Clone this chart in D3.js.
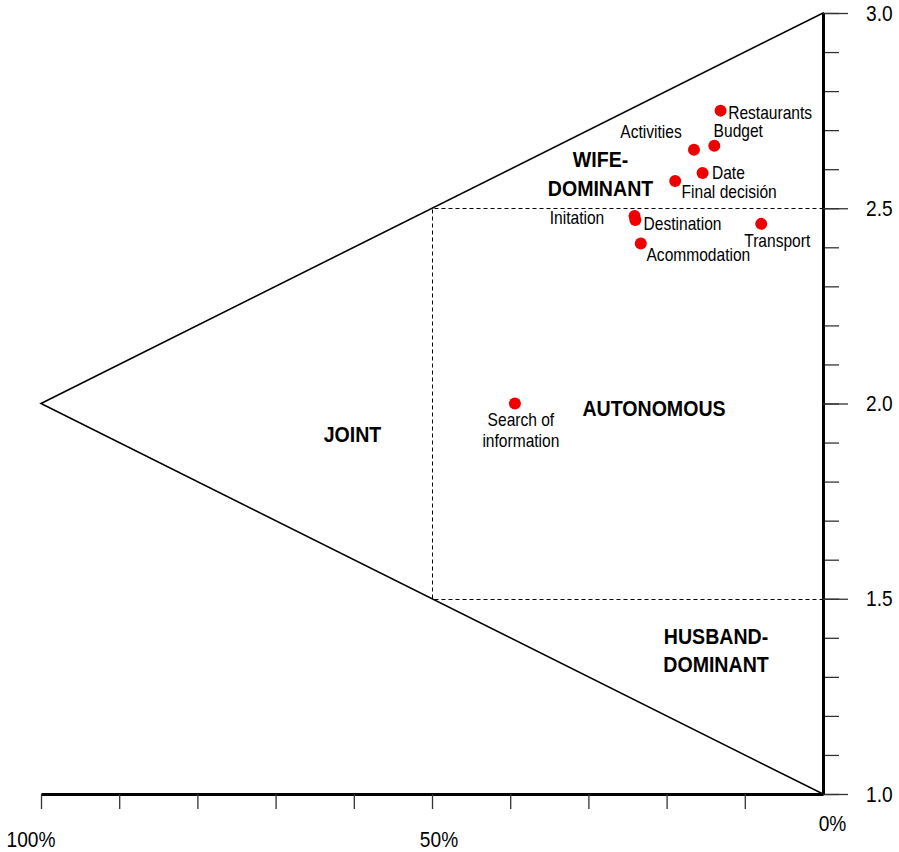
<!DOCTYPE html>
<html>
<head>
<meta charset="utf-8">
<script src="https://cdn.jsdelivr.net/npm/d3@7"></script>
<style>
  html, body { margin: 0; padding: 0; background: #fff; }
  svg { display: block; font-family: "Liberation Sans", Arial, sans-serif; }
</style>
</head>
<body>
<svg id="chart" width="899" height="852"></svg>
<script>
// ---- data ----
const decisions   = ["Restaurants", "Budget", "Activities", "Date", "Final decisión", "Initation", "Destination", "Transport", "Acommodation", "Search of information"];
const jointPct    = [13.1, 13.9, 16.5, 15.4, 18.9, 24.1, 24.0, 7.9, 23.3, 39.4];
const relInfluence= [2.75, 2.66, 2.65, 2.59, 2.57, 2.48, 2.47, 2.46, 2.41, 2.00];
const yMajorTicks = [1.0, 1.5, 2.0, 2.5, 3.0];
const yMinorTicks = [1.0,1.1,1.2,1.3,1.4,1.5,1.6,1.7,1.8,1.9,2.0,2.1,2.2,2.3,2.4,2.5,2.6,2.7,2.8,2.9,3.0];
const xTicks      = [100, 90, 80, 70, 60, 50, 40, 30, 20, 10];
const xTickLabels = ["100%", "50%", "0%"];
const xTickLabelValues = [100, 50, 0];
const regionNames = ["WIFE-\nDOMINANT", "AUTONOMOUS", "JOINT", "HUSBAND-\nDOMINANT"];

// ---- layout (positions / offsets / styles) ----
const labelLayout = {
  "Restaurants":          {dx: 7.6,  dy: 8.3,  anchor: "start"},
  "Budget":               {dx: -0.7, dy: -9,   anchor: "start"},
  "Activities":           {dx: -12.3,dy: -12,  anchor: "end"},
  "Date":                 {dx: 9.4,  dy: 5.7,  anchor: "start"},
  "Final decisión":       {dx: 6.4,  dy: 17,   anchor: "start"},
  "Initation":            {dx: -30.3,dy: 7.7,  anchor: "end"},
  "Destination":          {dx: 8.3,  dy: 9.7,  anchor: "start"},
  "Transport":            {dx: -17,  dy: 22.7, anchor: "start"},
  "Acommodation":         {dx: 5.7,  dy: 17.7, anchor: "start"},
  "Search of information":{dx: 6,    dy: 22,   anchor: "middle", lines: ["Search of", "information"]}
};
const regionLayout = [
  {x: 600.5, y: 167.3},
  {x: 654,   y: 416},
  {x: 352.5, y: 442},
  {x: 716,   y: 644}
];
const xLabelOffsets = [{dx: -10, y: 847}, {dx: 7, y: 847}, {dx: 9.5, y: 831}];
const SX = 0.89;          // horizontal squeeze of the reference typeface
const FS_POINT = 17.5, FS_AXIS = 21.5, FS_REGION = 22;

const svg = d3.select("#chart");
const x = d3.scaleLinear().domain([100, 0]).range([41, 823]);
const y = d3.scaleLinear().domain([1, 3]).range([794, 13]);

function putText(g, X, Y, txt, size, anchor, weight) {
  return g.append("text")
    .attr("transform", `translate(${X},${Y}) scale(${SX},1)`)
    .attr("text-anchor", anchor || "start")
    .attr("font-size", size)
    .attr("font-weight", weight || "normal")
    .attr("fill", "#000")
    .text(txt);
}

// triangle
const tri = [[100, 2.0], [0, 3.0], [0, 1.0]];
svg.append("path")
  .attr("d", d3.line().x(d => x(d[0])).y(d => y(d[1]))(tri) + "Z")
  .attr("fill", "none").attr("stroke", "#000").attr("stroke-width", 1.6);

// dashed autonomous box
const box = [[0, 2.5], [50, 2.5], [50, 1.5], [0, 1.5]];
svg.append("path")
  .attr("d", d3.line().x(d => Math.round(x(d[0])) + 0.5).y(d => Math.round(y(d[1])) + 0.5)(box))
  .attr("fill", "none").attr("stroke", "#000").attr("stroke-width", 1)
  .attr("stroke-dasharray", "4,3");

// right axis: minor ticks
const minorAxis = d3.axisRight(y).tickValues(yMinorTicks).tickSize(16).tickSizeOuter(0).tickFormat("");
const gMinor = svg.append("g").attr("transform", `translate(${x(0)},0)`).call(minorAxis);
gMinor.select(".domain").remove();
gMinor.selectAll(".tick line").attr("stroke", "#333").attr("stroke-width", 1.3);

// right axis: major ticks + labels
const majorAxis = d3.axisRight(y).tickValues(yMajorTicks).tickSize(25).tickSizeOuter(0)
  .tickPadding(18).tickFormat(d3.format(".1f"));
const gMajor = svg.append("g").attr("transform", `translate(${x(0)},0)`).call(majorAxis);
gMajor.select(".domain").attr("stroke", "#000").attr("stroke-width", 3);
gMajor.selectAll(".tick line").attr("stroke", "#333").attr("stroke-width", 1.3);
gMajor.selectAll(".tick text")
  .attr("x", null).attr("dy", null)
  .attr("transform", `translate(43,7) scale(${SX},1)`)
  .attr("font-size", FS_AXIS).attr("fill", "#000")
  .attr("font-family", "Liberation Sans, Arial, sans-serif");

// bottom axis
const bottomAxis = d3.axisBottom(x).tickValues(xTicks).tickSize(15).tickSizeOuter(0).tickFormat("");
const gBottom = svg.append("g").attr("transform", `translate(0,${y(1)})`).call(bottomAxis);
gBottom.select(".domain").attr("stroke", "#000").attr("stroke-width", 3);
gBottom.selectAll(".tick line").attr("stroke", "#333").attr("stroke-width", 1.3);

const gXL = svg.append("g");
xTickLabels.forEach((lab, i) => {
  putText(gXL, x(xTickLabelValues[i]) + xLabelOffsets[i].dx, xLabelOffsets[i].y, lab, FS_AXIS, "middle");
});

// points
const pts = decisions.map((name, i) => ({name, p: jointPct[i], v: relInfluence[i]}));
svg.append("g").selectAll("circle").data(pts).join("circle")
  .attr("cx", d => x(d.p)).attr("cy", d => y(d.v)).attr("r", 6)
  .attr("fill", "#ee0000");

// point labels
const lg = svg.append("g");
pts.forEach(d => {
  const L = labelLayout[d.name];
  const lines = L.lines || [d.name];
  lines.forEach((ln, k) => {
    putText(lg, x(d.p) + L.dx, y(d.v) + L.dy + k * 21.5, ln, FS_POINT, L.anchor);
  });
});

// region labels
const rg = svg.append("g");
regionNames.forEach((name, i) => {
  const pos = regionLayout[i];
  name.split("\n").forEach((ln, k) => {
    putText(rg, pos.x, pos.y + k * 28.3, ln, FS_REGION, "middle", "bold");
  });
});
</script>
</body>
</html>
